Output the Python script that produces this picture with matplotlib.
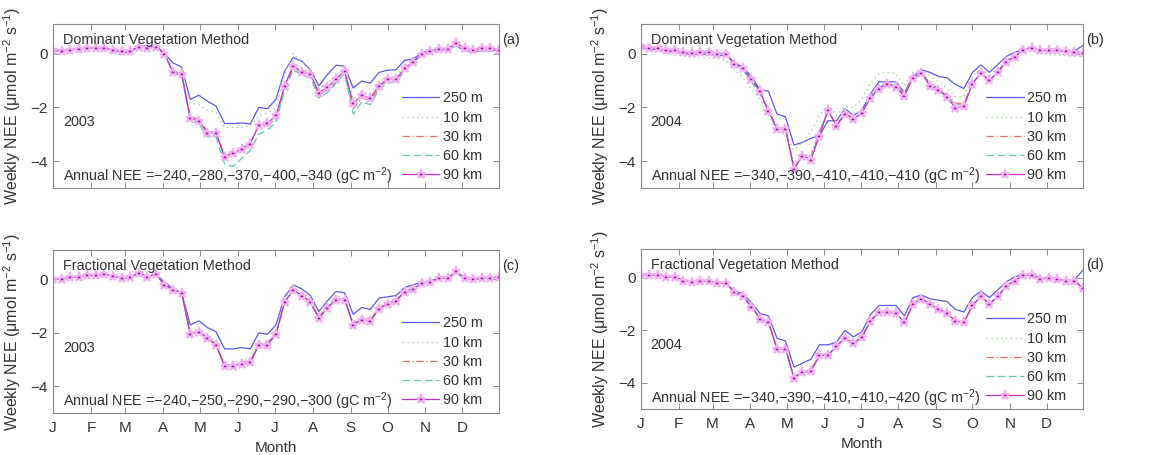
import numpy as np
import matplotlib
matplotlib.use('Agg')
import matplotlib.pyplot as plt

plt.rcParams['font.family'] = ['Liberation Sans', 'DejaVu Sans']
plt.rcParams['mathtext.default'] = 'regular'
plt.rcParams['font.size'] = 10.5

# weekly points, day of year
days = [1 + 7 * k for k in range(53)]
month_starts = [1, 32, 60, 91, 121, 152, 182, 213, 244, 274, 305, 335]
month_labels = ['J', 'F', 'M', 'A', 'M', 'J', 'J', 'A', 'S', 'O', 'N', 'D']
res_labels = ['250 m', '10 km', '30 km', '60 km', '90 km']

# (a) 2003, dominant vegetation
a_250 = [0.15, 0.12, 0.15, 0.18, 0.2, 0.2, 0.18, 0.12, 0.05, 0.05, 0.28, 0.28, 0.3, 0.0, -0.35, -0.5,
         -1.7, -1.55, -1.77, -1.95, -2.6, -2.6, -2.58, -2.62, -2.0, -2.05, -1.7, -0.65, -0.15, -0.28,
         -0.6, -1.2, -0.78, -0.43, -0.47, -1.28, -1.02, -1.1, -0.7, -0.62, -0.6, -0.25, -0.2, 0.03,
         0.12, 0.13, 0.15, 0.3, 0.1, 0.08, 0.08, 0.1, 0.15]
a_10 = [0.14, 0.12, 0.14, 0.18, 0.2, 0.2, 0.2, 0.14, 0.08, 0.08, 0.26, 0.24, 0.28, 0.0, -0.6, -0.65,
        -1.85, -1.9, -2.1, -2.2, -2.75, -2.75, -2.75, -2.7, -2.3, -2.2, -2.0, -0.8, 0.0, -0.3,
        -0.55, -1.3, -1.1, -0.8, -0.55, -1.7, -1.4, -1.5, -1.05, -0.85, -0.85, -0.45, -0.25, 0.0,
        0.1, 0.15, 0.15, 0.35, 0.15, 0.1, 0.12, 0.12, 0.12]
a_30 = [0.12, 0.1, 0.12, 0.18, 0.2, 0.2, 0.2, 0.15, 0.1, 0.1, 0.25, 0.2, 0.25, 0.0, -0.7, -0.75,
        -2.35, -2.45, -2.9, -2.9, -3.8, -3.7, -3.5, -3.3, -2.7, -2.7, -2.4, -1.3, -0.5, -0.75,
        -0.8, -1.55, -1.35, -1.05, -0.7, -2.05, -1.65, -1.75, -1.3, -1.0, -1.0, -0.6, -0.3, -0.03,
        0.07, 0.17, 0.17, 0.36, 0.2, 0.13, 0.18, 0.18, 0.15]
a_60 = [0.12, 0.1, 0.12, 0.18, 0.2, 0.2, 0.2, 0.15, 0.1, 0.1, 0.25, 0.2, 0.25, 0.0, -0.75, -0.8,
        -2.5, -2.6, -3.1, -3.1, -4.1, -4.2, -3.9, -3.6, -3.0, -2.85, -2.55, -1.4, -0.6, -0.8,
        -0.9, -1.65, -1.45, -1.1, -0.75, -2.25, -1.8, -1.9, -1.35, -1.1, -1.05, -0.65, -0.35, -0.05,
        0.05, 0.15, 0.15, 0.35, 0.2, 0.12, 0.18, 0.18, 0.15]
a_90 = [0.12, 0.1, 0.12, 0.18, 0.2, 0.2, 0.2, 0.15, 0.1, 0.1, 0.25, 0.2, 0.25, 0.0, -0.7, -0.75,
        -2.4, -2.5, -2.95, -2.95, -3.85, -3.7, -3.55, -3.35, -2.65, -2.6, -2.3, -1.2, -0.45, -0.7,
        -0.75, -1.45, -1.25, -0.95, -0.65, -1.85, -1.55, -1.65, -1.2, -0.95, -0.95, -0.55, -0.3, -0.02,
        0.08, 0.18, 0.18, 0.38, 0.22, 0.15, 0.2, 0.2, 0.15]

# (b) 2004, dominant vegetation
b_250 = [0.22, 0.15, 0.15, 0.08, 0.05, 0.0, -0.02, -0.02, -0.02, -0.08, -0.05, -0.35, -0.5, -0.85,
         -1.35, -1.4, -2.25, -2.35, -3.4, -3.3, -3.15, -3.05, -2.5, -2.5, -2.05, -2.3, -2.1, -1.5,
         -1.05, -1.05, -1.05, -1.45, -0.85, -0.6, -0.7, -0.85, -0.9, -1.15, -1.3, -0.7, -0.42, -0.7,
         -0.4, -0.1, 0.05, 0.15, 0.2, 0.12, 0.1, 0.1, 0.08, 0.1, 0.3]
b_10 = [0.2, 0.12, 0.1, 0.0, -0.05, -0.1, -0.12, -0.15, -0.15, -0.2, -0.25, -0.6, -0.9, -1.3, -1.7,
        -2.3, -2.9, -3.0, -3.6, -3.3, -2.9, -2.3, -1.9, -2.3, -1.95, -2.0, -1.7, -1.1, -0.75, -0.7,
        -0.75, -1.2, -0.7, -0.55, -0.85, -1.05, -1.3, -1.6, -1.6, -0.85, -0.55, -0.8, -0.55, -0.25,
        -0.1, 0.05, 0.1, 0.0, -0.05, -0.05, -0.08, -0.1, -0.1]
b_30 = [0.28, 0.2, 0.22, 0.12, 0.12, 0.05, 0.02, 0.05, 0.05, 0.0, 0.0, -0.4, -0.6, -1.0, -1.45,
        -2.1, -2.75, -2.75, -4.2, -3.75, -3.8, -2.9, -2.15, -2.65, -2.2, -2.4, -2.15, -1.6, -1.25,
        -1.1, -1.2, -1.5, -0.85, -0.7, -1.1, -1.3, -1.55, -1.85, -1.85, -1.1, -0.72, -1.0, -0.65,
        -0.28, -0.1, 0.15, 0.2, 0.12, 0.13, 0.12, 0.1, 0.05, 0.02]
b_60 = [0.28, 0.2, 0.22, 0.12, 0.12, 0.05, 0.02, 0.05, 0.05, 0.0, 0.0, -0.42, -0.62, -1.05, -1.5,
        -2.15, -2.8, -2.8, -4.25, -3.8, -3.85, -2.95, -2.1, -2.7, -2.25, -2.45, -2.2, -1.6, -1.25,
        -1.1, -1.2, -1.55, -0.85, -0.7, -1.15, -1.3, -1.6, -1.9, -1.9, -1.1, -0.72, -1.0, -0.68,
        -0.3, -0.12, 0.15, 0.2, 0.12, 0.13, 0.12, 0.1, 0.05, 0.02]
b_90 = [0.28, 0.2, 0.22, 0.12, 0.12, 0.05, 0.02, 0.05, 0.05, 0.0, 0.0, -0.38, -0.55, -0.95, -1.4,
        -2.15, -2.8, -2.8, -4.3, -3.8, -3.95, -3.05, -2.1, -2.7, -2.25, -2.45, -2.2, -1.65, -1.3,
        -1.12, -1.25, -1.58, -0.9, -0.72, -1.2, -1.35, -1.62, -2.02, -1.95, -1.12, -0.72, -1.0, -0.68,
        -0.3, -0.12, 0.15, 0.22, 0.12, 0.15, 0.12, 0.1, 0.05, 0.02]

# (c) 2003, fractional vegetation
c_250 = [0.02, 0.0, 0.08, 0.1, 0.15, 0.15, 0.2, 0.12, 0.05, 0.08, 0.25, 0.1, 0.2, -0.1, -0.35, -0.5,
         -1.7, -1.55, -1.8, -1.95, -2.6, -2.6, -2.55, -2.6, -2.0, -2.05, -1.7, -0.65, -0.2, -0.35,
         -0.6, -1.2, -0.8, -0.45, -0.5, -1.3, -1.05, -1.12, -0.7, -0.65, -0.6, -0.3, -0.2, -0.1,
         -0.05, 0.05, 0.05, 0.25, 0.05, 0.0, 0.05, 0.05, 0.1]
c_10 = [0.02, 0.0, 0.08, 0.1, 0.15, 0.15, 0.2, 0.12, 0.05, 0.08, 0.25, 0.1, 0.2, -0.18, -0.38, -0.48,
        -1.95, -1.85, -2.1, -2.35, -3.1, -3.1, -3.0, -2.95, -2.35, -2.35, -1.95, -0.75, -0.3, -0.5,
        -0.75, -1.35, -0.95, -0.65, -0.65, -1.6, -1.4, -1.45, -1.0, -0.85, -0.75, -0.4, -0.3, -0.12,
        -0.08, 0.05, 0.05, 0.3, 0.05, 0.0, 0.05, 0.05, 0.1]
c_30 = [0.02, 0.0, 0.08, 0.1, 0.15, 0.15, 0.2, 0.12, 0.05, 0.08, 0.25, 0.1, 0.2, -0.2, -0.4, -0.5,
        -2.0, -1.95, -2.2, -2.4, -3.2, -3.2, -3.1, -3.05, -2.4, -2.4, -2.0, -0.85, -0.4, -0.6,
        -0.85, -1.4, -1.05, -0.75, -0.75, -1.65, -1.45, -1.5, -1.1, -0.9, -0.8, -0.45, -0.35, -0.15,
        -0.1, 0.05, 0.05, 0.3, 0.05, 0.0, 0.05, 0.05, 0.1]
c_60 = [0.02, 0.0, 0.08, 0.1, 0.15, 0.15, 0.2, 0.12, 0.05, 0.08, 0.25, 0.1, 0.2, -0.2, -0.4, -0.5,
        -2.05, -1.95, -2.2, -2.45, -3.25, -3.25, -3.15, -3.1, -2.45, -2.45, -2.05, -0.85, -0.4, -0.6,
        -0.85, -1.45, -1.05, -0.75, -0.75, -1.7, -1.5, -1.55, -1.1, -0.9, -0.8, -0.45, -0.35, -0.15,
        -0.1, 0.05, 0.05, 0.3, 0.05, 0.0, 0.05, 0.05, 0.1]
c_90 = [0.02, 0.0, 0.08, 0.1, 0.15, 0.15, 0.2, 0.12, 0.05, 0.08, 0.25, 0.1, 0.2, -0.2, -0.4, -0.5,
        -2.05, -1.95, -2.2, -2.45, -3.25, -3.25, -3.15, -3.1, -2.45, -2.45, -2.05, -0.85, -0.4, -0.6,
        -0.85, -1.45, -1.05, -0.75, -0.75, -1.7, -1.5, -1.55, -1.1, -0.9, -0.8, -0.45, -0.35, -0.15,
        -0.1, 0.05, 0.05, 0.3, 0.05, 0.0, 0.05, 0.05, 0.1]

# (d) 2004, fractional vegetation
d_250 = [0.12, 0.1, 0.12, 0.05, 0.05, -0.1, -0.15, -0.12, -0.1, -0.2, -0.2, -0.5, -0.6, -0.95, -1.35,
         -1.45, -2.3, -2.4, -3.4, -3.25, -3.1, -2.55, -2.55, -2.45, -2.0, -2.25, -2.05, -1.4, -1.05,
         -1.05, -1.05, -1.45, -0.75, -0.65, -0.8, -0.85, -0.9, -1.2, -1.3, -0.75, -0.5, -0.75, -0.45,
         -0.15, 0.05, 0.12, 0.12, 0.0, 0.0, -0.05, -0.08, -0.08, 0.3]
d_10 = [0.1, 0.1, 0.12, 0.05, 0.05, -0.1, -0.15, -0.12, -0.1, -0.2, -0.2, -0.55, -0.68, -1.05, -1.5,
        -1.65, -2.65, -2.65, -3.75, -3.55, -3.5, -2.9, -2.9, -2.55, -2.25, -2.45, -2.2, -1.6, -1.25,
        -1.25, -1.3, -1.65, -0.95, -0.78, -0.98, -1.15, -1.3, -1.6, -1.65, -1.0, -0.68, -0.98, -0.68,
        -0.28, -0.08, 0.1, 0.1, -0.05, 0.0, -0.05, -0.1, -0.1, -0.35]
d_30 = [0.1, 0.1, 0.12, 0.05, 0.05, -0.1, -0.15, -0.12, -0.1, -0.2, -0.2, -0.55, -0.7, -1.08, -1.55,
        -1.7, -2.68, -2.7, -3.78, -3.6, -3.55, -2.95, -2.92, -2.6, -2.3, -2.5, -2.25, -1.62, -1.28,
        -1.3, -1.35, -1.68, -1.0, -0.8, -1.0, -1.2, -1.35, -1.62, -1.7, -1.05, -0.7, -1.0, -0.7,
        -0.3, -0.1, 0.1, 0.1, -0.05, 0.0, -0.05, -0.1, -0.1, -0.4]
d_60 = [0.1, 0.1, 0.12, 0.05, 0.05, -0.1, -0.15, -0.12, -0.1, -0.2, -0.2, -0.55, -0.7, -1.1, -1.55,
        -1.7, -2.7, -2.7, -3.8, -3.6, -3.55, -2.95, -2.95, -2.6, -2.3, -2.5, -2.25, -1.65, -1.3,
        -1.3, -1.35, -1.7, -1.0, -0.8, -1.0, -1.2, -1.35, -1.65, -1.7, -1.05, -0.7, -1.0, -0.7,
        -0.3, -0.1, 0.1, 0.1, -0.05, 0.0, -0.05, -0.1, -0.1, -0.4]
d_90 = [0.1, 0.1, 0.12, 0.05, 0.05, -0.1, -0.15, -0.12, -0.1, -0.2, -0.2, -0.55, -0.7, -1.1, -1.55,
        -1.7, -2.7, -2.7, -3.8, -3.6, -3.55, -2.95, -2.95, -2.6, -2.3, -2.5, -2.25, -1.65, -1.3,
        -1.3, -1.35, -1.7, -1.0, -0.8, -1.0, -1.2, -1.35, -1.65, -1.7, -1.05, -0.7, -1.0, -0.7,
        -0.3, -0.1, 0.1, 0.1, -0.05, 0.0, -0.05, -0.1, -0.1, -0.4]

panels = [
    ('(a)', 'Dominant Vegetation Method', '2003', '\u2212240,\u2212280,\u2212370,\u2212400,\u2212340',
     [a_250, a_10, a_30, a_60, a_90], [0.0458, 0.5868, 0.3855, 0.3604], False),
    ('(b)', 'Dominant Vegetation Method', '2004', '\u2212340,\u2212390,\u2212410,\u2212410,\u2212410',
     [b_250, b_10, b_30, b_60, b_90], [0.554, 0.5868, 0.382, 0.3604], False),
    ('(c)', 'Fractional Vegetation Method', '2003', '\u2212240,\u2212250,\u2212290,\u2212290,\u2212300',
     [c_250, c_10, c_30, c_60, c_90], [0.0458, 0.0923, 0.3855, 0.358], True),
    ('(d)', 'Fractional Vegetation Method', '2004', '\u2212340,\u2212390,\u2212410,\u2212410,\u2212420',
     [d_250, d_10, d_30, d_60, d_90], [0.554, 0.101, 0.382, 0.3516], True),
]

text_col = '#333333'
fs = 10.4
fig = plt.figure(figsize=(11.57, 4.55), dpi=100)

for tag, method, year, annual, series, pos, bottom in panels:
    ax = fig.add_axes(pos)
    s250, s10, s30, s60, s90 = series
    ax.plot(days, s250, color='#5a5ae6', lw=0.9, label=res_labels[0])
    ax.plot(days, s10, color='#9fd49f', lw=1.0, ls=(0, (1, 2.5)), label=res_labels[1])
    ax.plot(days, s30, color='#e87070', lw=0.9, ls=(0, (6, 2, 1, 2)), label=res_labels[2])
    ax.plot(days, s60, color='#5fc8b4', lw=0.9, ls=(0, (6, 3)), label=res_labels[3])
    ax.plot(days, s90, color='#c22fc8', lw=0.9, marker='*', ms=6.5,
            mfc='#9a1aa8', mec='#f4b0f4', mew=1.4, label=res_labels[4])

    ax.set_xlim(1, 365)
    ax.set_ylim(-5, 1.1)
    ax.set_yticks([0, -2, -4])
    ax.set_yticklabels(['0', '\u22122', '\u22124'])
    ax.set_xticks(month_starts)
    if bottom:
        ax.set_xticklabels(month_labels)
        ax.set_xlabel('Month', color=text_col, fontsize=11, labelpad=4)
    else:
        ax.set_xticklabels([])
    ax.tick_params(direction='in', top=True, right=True, length=4, width=0.6,
                   colors='#777777', labelcolor=text_col, labelsize=11)
    ax.tick_params(axis='x', pad=6)
    ax.tick_params(axis='y', pad=4)
    for sp in ax.spines.values():
        sp.set_color('#888888')
        sp.set_linewidth(0.8)
    ax.set_ylabel('Weekly NEE (\u03bcmol m$^{-2}$ s$^{-1}$)', color=text_col, fontsize=11.5, labelpad=5)

    ax.text(0.022, 0.9, method, transform=ax.transAxes, color=text_col, fontsize=fs, va='center')
    ax.text(0.022, 0.40, year, transform=ax.transAxes, color=text_col, fontsize=fs, va='center')
    ax.text(0.022, 0.07, 'Annual NEE =' + annual + ' (gC m$^{-2}$)', transform=ax.transAxes,
            color=text_col, fontsize=fs, va='center')
    ax.text(1.008, 0.9, tag, transform=ax.transAxes, color=text_col, fontsize=fs, va='center')

    leg = ax.legend(loc='lower right', bbox_to_anchor=(0.977, 0.0), frameon=False, fontsize=10.4,
                    handlelength=2.6, handletextpad=0.25, labelspacing=0.36, borderaxespad=0.0,
                    numpoints=1)
    for t in leg.get_texts():
        t.set_color(text_col)

fig.savefig('out.png', dpi=100)
